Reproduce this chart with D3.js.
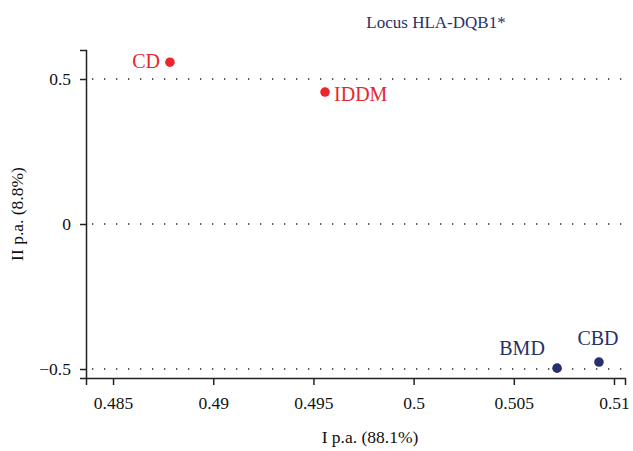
<!DOCTYPE html>
<html>
<head>
<meta charset="utf-8">
<script src="https://cdn.jsdelivr.net/npm/d3@7"></script>
<style>
  body { margin: 0; background: #fff; }
  text { font-family: "Liberation Serif", "DejaVu Serif", serif; }
</style>
</head>
<body>
<svg id="chart" width="633" height="451"></svg>
<script>
var groups = ["CD", "IDDM", "BMD", "CBD"];
var pa1 = [0.48784, 0.49558, 0.50716, 0.50925];
var pa2 = [0.558, 0.455, -0.497, -0.476];
var colors = ["#e8262b", "#e8262b", "#26306a", "#26306a"];
var xTicks = [0.485, 0.49, 0.495, 0.5, 0.505, 0.51];
var yTicks = [-0.5, 0, 0.5];

var svg = d3.select("#chart");

var x = d3.scaleLinear().domain([0.48365, 0.51055]).range([86, 625]);
var y = d3.scaleLinear().domain([-0.531, 0.6]).range([378, 50]);

// dotted grid lines
svg.selectAll(".grid")
    .data(yTicks)
  .enter().append("line")
    .attr("class", "grid")
    .attr("x1", 92).attr("x2", 625)
    .attr("y1", function(d) { return y(d); })
    .attr("y2", function(d) { return y(d); })
    .style("stroke", "#222")
    .style("stroke-width", 1.3)
    .style("stroke-dasharray", "1.3,10.7");

var xAxis = svg.append("g")
    .attr("transform", "translate(0,378)")
    .call(d3.axisBottom(x).tickValues(xTicks).tickSize(7).tickPadding(12)
      .tickFormat(function(d) { return d3.format("")(+d.toFixed(3)); }));

var yAxis = svg.append("g")
    .attr("transform", "translate(86,0)")
    .call(d3.axisLeft(y).tickValues(yTicks).tickSize(6).tickPadding(9)
      .tickFormat(function(d) { return d < 0 ? "\u2212" + Math.abs(d) : d; }));

[xAxis, yAxis].forEach(function(a) {
  a.select(".domain").style("stroke", "#222").style("stroke-width", 1.5);
  a.selectAll(".tick line").style("stroke", "#222").style("stroke-width", 1.5);
  a.selectAll("text").style("font-size", "17.5px").style("fill", "#111")
    .style("font-family", "Liberation Serif, serif");
});

var data = groups.map(function(g, i) {
  return { name: g, x: pa1[i], y: pa2[i], color: colors[i] };
});

svg.selectAll(".pt")
    .data(data)
  .enter().append("circle")
    .attr("class", "pt")
    .attr("cx", function(d) { return x(d.x); })
    .attr("cy", function(d) { return y(d.y); })
    .attr("r", 4.8)
    .style("fill", function(d) { return d.color; });

// label placement relative to each point
var lab = {
  CD:   { dx: -10, dy: 6,   anchor: "end" },
  IDDM: { dx: 9,   dy: 9,   anchor: "start" },
  BMD:  { dx: -35, dy: -13, anchor: "middle" },
  CBD:  { dx: -1,  dy: -17, anchor: "middle" }
};

svg.selectAll(".lbl")
    .data(data)
  .enter().append("text")
    .attr("class", "lbl")
    .attr("x", function(d) { return x(d.x) + lab[d.name].dx; })
    .attr("y", function(d) { return y(d.y) + lab[d.name].dy; })
    .attr("text-anchor", function(d) { return lab[d.name].anchor; })
    .style("font-size", "20px")
    .style("fill", function(d) { return d.color; })
    .text(function(d) { return d.name; });

svg.append("text")
    .attr("x", 436).attr("y", 28)
    .attr("text-anchor", "middle")
    .style("font-size", "17px")
    .style("fill", "#26306a")
    .text("Locus HLA-DQB1*");

svg.append("text")
    .attr("x", 370).attr("y", 443)
    .attr("text-anchor", "middle")
    .style("font-size", "17.5px")
    .style("fill", "#111")
    .text("I p.a. (88.1%)");

svg.append("text")
    .attr("transform", "translate(23,214)rotate(-90)")
    .attr("text-anchor", "middle")
    .style("font-size", "17.5px")
    .style("fill", "#111")
    .text("II p.a. (8.8%)");
</script>
</body>
</html>
